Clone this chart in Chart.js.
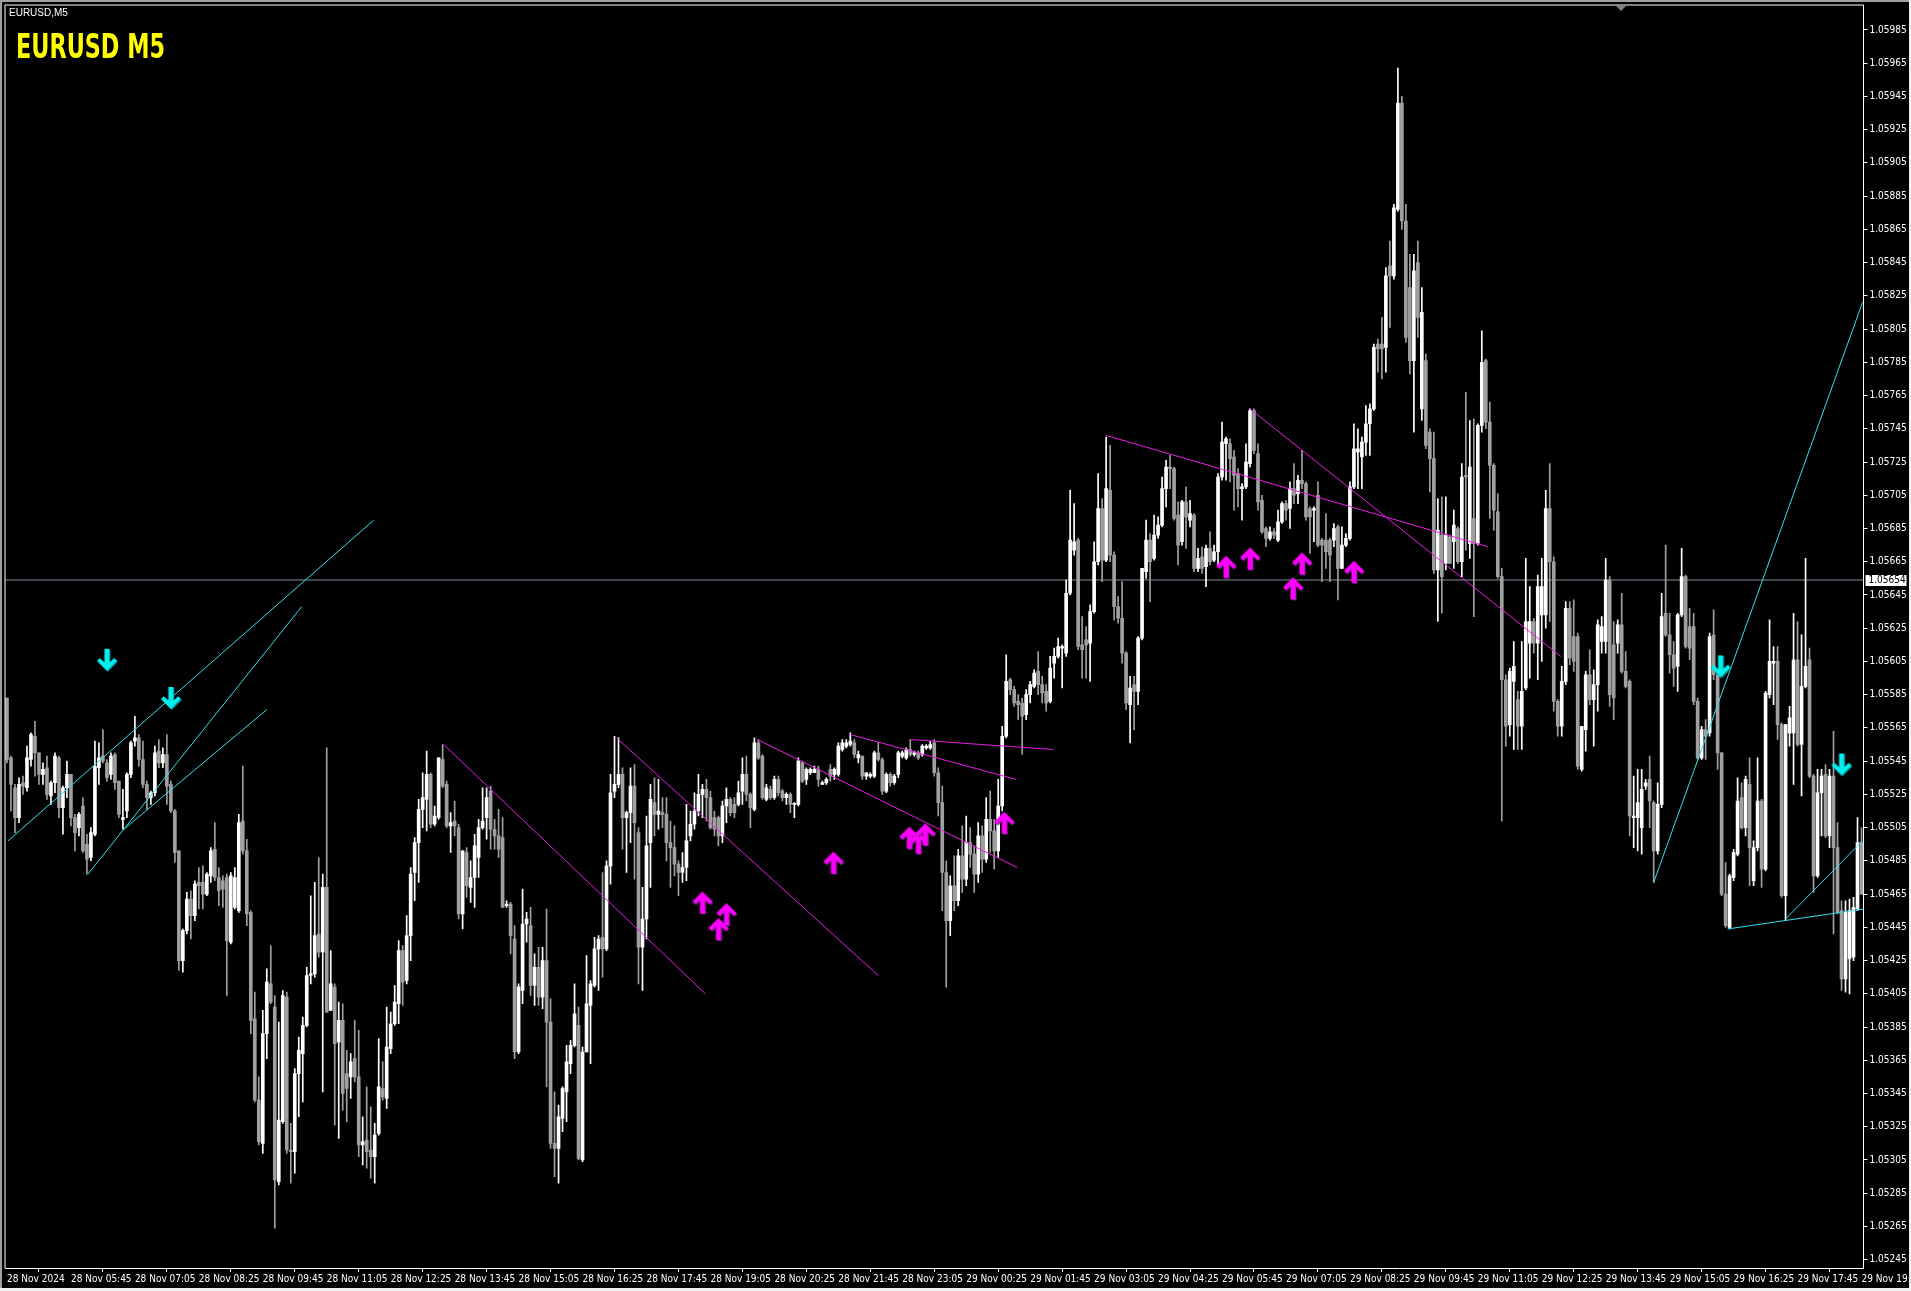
<!DOCTYPE html>
<html>
<head>
<meta charset="utf-8">
<title>EURUSD,M5</title>
<script src="https://cdn.jsdelivr.net/npm/chart.js@4.4.1/dist/chart.umd.min.js"></script>
<style>
  html, body { margin: 0; padding: 0; background: #000; overflow: hidden; }
  canvas { display: block; }
</style>
</head>
<body>
<canvas id="chart" width="1911" height="1291"></canvas>
<script>
// EURUSD M5, 28 Nov 04:25 -> 29 Nov 19:05, one value per bar
var opens = [
1.05583,1.05547,1.05529,1.05511,1.05532,1.05529,1.05546,1.05560,1.05550,1.05537,
1.05541,1.05524,1.05532,1.05547,1.05517,1.05529,1.05537,1.05511,1.05505,1.05518,
1.05495,1.05487,1.05501,1.05541,1.05548,1.05544,1.05537,1.05549,1.05533,1.05510,
1.05515,1.05537,1.05557,1.05559,1.05546,1.05531,1.05523,1.05526,1.05551,1.05544,
1.05549,1.05531,1.05515,1.05491,1.05425,1.05443,1.05462,1.05452,1.05472,1.05472,
1.05465,1.05476,1.05492,1.05475,1.05473,1.05475,1.05436,1.05457,1.05455,1.05509,
1.05491,1.05454,1.05390,1.05341,1.05315,1.05381,1.05411,1.05397,1.05292,1.05328,
1.05403,1.05311,1.05310,1.05357,1.05369,1.05386,1.05416,1.05417,1.05441,1.05430,
1.05469,1.05395,1.05409,1.05376,1.05389,1.05357,1.05355,1.05366,1.05355,1.05314,
1.05317,1.05311,1.05307,1.05321,1.05348,1.05342,1.05372,1.05387,1.05399,1.05431,
1.05413,1.05440,1.05478,1.05496,1.05516,1.05522,1.05537,1.05507,1.05511,1.05546,
1.05531,1.05506,1.05509,1.05505,1.05453,1.05490,1.05469,1.05475,1.05487,1.05505,
1.05511,1.05527,1.05504,1.05500,1.05499,1.05458,1.05459,1.05438,1.05370,1.05407,
1.05447,1.05446,1.05410,1.05421,1.05403,1.05425,1.05388,1.05315,1.05312,1.05330,
1.05346,1.05363,1.05374,1.05386,1.05305,1.05370,1.05398,1.05410,1.05432,1.05439,
1.05432,1.05482,1.05527,1.05531,1.05537,1.05511,1.05514,1.05530,1.05502,1.05433,
1.05450,1.05496,1.05520,1.05513,1.05514,1.05513,1.05496,1.05493,1.05483,1.05478,
1.05481,1.05500,1.05507,1.05515,1.05525,1.05528,1.05523,1.05511,1.05511,1.05500,
1.05518,1.05522,1.05519,1.05519,1.05527,1.05537,1.05525,1.05516,1.05556,1.05548,
1.05522,1.05528,1.05523,1.05534,1.05527,1.05523,1.05525,1.05519,1.05519,1.05544,
1.05534,1.05538,1.05538,1.05540,1.05531,1.05532,1.05540,1.05537,1.05537,1.05552,
1.05554,1.05555,1.05556,1.05547,1.05548,1.05536,1.05536,1.05536,1.05550,1.05546,
1.05527,1.05537,1.05532,1.05537,1.05548,1.05547,1.05552,1.05549,1.05550,1.05549,
1.05553,1.05553,1.05556,1.05538,1.05520,1.05478,1.05449,1.05470,1.05461,1.05488,
1.05474,1.05496,1.05489,1.05477,1.05500,1.05486,1.05510,1.05503,1.05491,1.05518,
1.05560,1.05594,1.05588,1.05581,1.05580,1.05573,1.05585,1.05590,1.05599,1.05591,
1.05587,1.05581,1.05604,1.05608,1.05613,1.05610,1.05646,1.05672,1.05678,1.05615,
1.05618,1.05616,1.05635,1.05665,1.05697,1.05666,1.05708,1.05669,1.05638,1.05631,
1.05610,1.05579,1.05591,1.05587,1.05619,1.05659,1.05678,1.05667,1.05681,1.05687,
1.05709,1.05722,1.05721,1.05693,1.05677,1.05701,1.05690,1.05693,1.05661,1.05668,
1.05662,1.05673,1.05666,1.05671,1.05716,1.05736,1.05736,1.05728,1.05718,1.05709,
1.05710,1.05724,1.05756,1.05730,1.05702,1.05685,1.05679,1.05683,1.05678,1.05689,
1.05700,1.05697,1.05709,1.05706,1.05714,1.05712,1.05697,1.05696,1.05705,1.05678,
1.05678,1.05678,1.05678,1.05686,1.05661,1.05675,1.05679,1.05710,1.05731,1.05728,
1.05737,1.05748,1.05757,1.05796,1.05796,1.05794,1.05843,1.05837,1.05877,1.05941,
1.05870,1.05830,1.05786,1.05845,1.05757,1.05786,1.05743,1.05727,1.05660,1.05681,
1.05664,1.05680,1.05677,1.05685,1.05665,1.05717,1.05676,1.05691,1.05676,1.05747,
1.05786,1.05749,1.05723,1.05695,1.05656,1.05594,1.05567,1.05593,1.05582,1.05566,
1.05589,1.05616,1.05629,1.05616,1.05633,1.05633,1.05697,1.05665,1.05581,1.05566,
1.05593,1.05637,1.05620,1.05620,1.05540,1.05564,1.05597,1.05582,1.05591,1.05617,
1.05617,1.05654,1.05615,1.05616,1.05627,1.05599,1.05593,1.05511,1.05511,1.05505,
1.05530,1.05534,1.05520,1.05491,1.05519,1.05634,1.05621,1.05609,1.05602,1.05633,
1.05656,1.05626,1.05626,1.05581,1.05547,1.05564,1.05562,1.05621,1.05597,1.05550,
1.05465,1.05445,1.05475,1.05489,1.05523,1.05505,1.05531,1.05473,1.05493,1.05521,
1.05480,1.05585,1.05604,1.05605,1.05567,1.05464,1.05562,1.05562,1.05606,1.05555,
1.05590,1.05606,1.05536,1.05476,1.05526,1.05537,1.05500,1.05536,1.05493,1.05455,
1.05414,1.05426,1.05427,1.05456,1.05496
];
var highs = [
1.05583,1.05548,1.05531,1.05535,1.05536,1.05554,1.05562,1.05569,1.05550,1.05544,
1.05548,1.05533,1.05550,1.05548,1.05530,1.05545,1.05537,1.05513,1.05514,1.05523,
1.05501,1.05505,1.05557,1.05556,1.05564,1.05546,1.05550,1.05550,1.05533,1.05528,
1.05538,1.05557,1.05572,1.05561,1.05557,1.05533,1.05527,1.05554,1.05558,1.05553,
1.05561,1.05533,1.05516,1.05491,1.05444,1.05466,1.05467,1.05473,1.05481,1.05482,
1.05478,1.05493,1.05508,1.05481,1.05476,1.05477,1.05478,1.05481,1.05513,1.05542,
1.05498,1.05455,1.05406,1.05355,1.05395,1.05420,1.05434,1.05404,1.05388,1.05407,
1.05406,1.05327,1.05360,1.05379,1.05391,1.05421,1.05464,1.05472,1.05487,1.05477,
1.05553,1.05431,1.05411,1.05400,1.05399,1.05371,1.05369,1.05389,1.05383,1.05331,
1.05349,1.05337,1.05327,1.05378,1.05364,1.05397,1.05394,1.05410,1.05437,1.05434,
1.05452,1.05481,1.05499,1.05522,1.05538,1.05551,1.05538,1.05518,1.05547,1.05555,
1.05533,1.05514,1.05521,1.05507,1.05491,1.05493,1.05485,1.05501,1.05510,1.05529,
1.05529,1.05530,1.05510,1.05516,1.05511,1.05461,1.05460,1.05446,1.05411,1.05468,
1.05454,1.05457,1.05429,1.05433,1.05433,1.05456,1.05402,1.05346,1.05338,1.05349,
1.05374,1.05377,1.05411,1.05397,1.05373,1.05428,1.05413,1.05439,1.05440,1.05478,
1.05485,1.05537,1.05560,1.05559,1.05541,1.05515,1.05541,1.05543,1.05505,1.05469,
1.05512,1.05531,1.05535,1.05534,1.05523,1.05523,1.05509,1.05506,1.05485,1.05490,
1.05519,1.05515,1.05526,1.05537,1.05531,1.05534,1.05527,1.05515,1.05512,1.05521,
1.05529,1.05523,1.05523,1.05533,1.05547,1.05548,1.05526,1.05559,1.05558,1.05549,
1.05531,1.05530,1.05536,1.05536,1.05528,1.05526,1.05526,1.05520,1.05547,1.05545,
1.05541,1.05541,1.05542,1.05542,1.05533,1.05535,1.05543,1.05541,1.05556,1.05558,
1.05558,1.05562,1.05558,1.05551,1.05548,1.05538,1.05538,1.05551,1.05556,1.05547,
1.05538,1.05538,1.05537,1.05551,1.05551,1.05553,1.05558,1.05551,1.05551,1.05555,
1.05555,1.05557,1.05558,1.05541,1.05530,1.05485,1.05476,1.05488,1.05492,1.05506,
1.05512,1.05505,1.05494,1.05508,1.05506,1.05523,1.05527,1.05510,1.05534,1.05566,
1.05609,1.05595,1.05590,1.05585,1.05583,1.05588,1.05593,1.05600,1.05611,1.05596,
1.05591,1.05608,1.05613,1.05619,1.05615,1.05654,1.05708,1.05700,1.05679,1.05632,
1.05626,1.05639,1.05677,1.05718,1.05703,1.05740,1.05735,1.05671,1.05644,1.05653,
1.05611,1.05596,1.05596,1.05620,1.05661,1.05690,1.05682,1.05693,1.05692,1.05716,
1.05726,1.05729,1.05722,1.05701,1.05702,1.05710,1.05702,1.05694,1.05673,1.05674,
1.05675,1.05683,1.05675,1.05718,1.05749,1.05740,1.05739,1.05732,1.05721,1.05712,
1.05736,1.05757,1.05757,1.05736,1.05705,1.05686,1.05686,1.05685,1.05696,1.05701,
1.05702,1.05713,1.05724,1.05717,1.05732,1.05713,1.05698,1.05698,1.05713,1.05679,
1.05694,1.05679,1.05688,1.05687,1.05686,1.05682,1.05713,1.05748,1.05745,1.05740,
1.05759,1.05760,1.05796,1.05799,1.05812,1.05842,1.05858,1.05880,1.05962,1.05945,
1.05880,1.05850,1.05850,1.05858,1.05830,1.05790,1.05745,1.05743,1.05703,1.05704,
1.05704,1.05681,1.05696,1.05686,1.05724,1.05767,1.05750,1.05751,1.05748,1.05804,
1.05787,1.05761,1.05724,1.05706,1.05661,1.05597,1.05601,1.05617,1.05587,1.05617,
1.05667,1.05650,1.05631,1.05657,1.05667,1.05708,1.05724,1.05668,1.05582,1.05602,
1.05641,1.05641,1.05642,1.05622,1.05566,1.05599,1.05612,1.05600,1.05630,1.05632,
1.05667,1.05656,1.05629,1.05630,1.05646,1.05611,1.05594,1.05536,1.05540,1.05540,
1.05534,1.05548,1.05521,1.05532,1.05646,1.05675,1.05634,1.05617,1.05634,1.05673,
1.05657,1.05637,1.05634,1.05583,1.05566,1.05570,1.05622,1.05636,1.05597,1.05550,
1.05484,1.05477,1.05492,1.05535,1.05532,1.05536,1.05547,1.05497,1.05547,1.05522,
1.05587,1.05630,1.05614,1.05614,1.05568,1.05567,1.05578,1.05634,1.05629,1.05621,
1.05667,1.05613,1.05537,1.05540,1.05540,1.05543,1.05540,1.05563,1.05508,1.05461,
1.05461,1.05462,1.05463,1.05511,1.05505
];
var lows = [
1.05544,1.05515,1.05502,1.05508,1.05525,1.05527,1.05542,1.05536,1.05531,1.05531,
1.05522,1.05519,1.05526,1.05511,1.05501,1.05523,1.05506,1.05491,1.05500,1.05490,
1.05477,1.05485,1.05500,1.05531,1.05544,1.05533,1.05534,1.05528,1.05511,1.05504,
1.05511,1.05535,1.05554,1.05542,1.05529,1.05516,1.05519,1.05524,1.05541,1.05541,
1.05519,1.05514,1.05484,1.05419,1.05418,1.05441,1.05438,1.05449,1.05456,1.05456,
1.05464,1.05472,1.05473,1.05458,1.05457,1.05404,1.05435,1.05456,1.05454,1.05489,
1.05446,1.05381,1.05340,1.05314,1.05309,1.05366,1.05399,1.05264,1.05290,1.05327,
1.05309,1.05291,1.05297,1.05331,1.05340,1.05385,1.05411,1.05415,1.05427,1.05346,
1.05394,1.05395,1.05326,1.05318,1.05335,1.05328,1.05342,1.05352,1.05307,1.05302,
1.05300,1.05294,1.05291,1.05320,1.05341,1.05336,1.05369,1.05386,1.05387,1.05398,
1.05411,1.05425,1.05461,1.05472,1.05505,1.05503,1.05505,1.05506,1.05510,1.05529,
1.05505,1.05490,1.05500,1.05450,1.05444,1.05463,1.05460,1.05457,1.05475,1.05504,
1.05498,1.05492,1.05492,1.05487,1.05457,1.05457,1.05429,1.05366,1.05369,1.05399,
1.05436,1.05404,1.05398,1.05398,1.05396,1.05349,1.05312,1.05295,1.05291,1.05322,
1.05328,1.05357,1.05373,1.05305,1.05304,1.05370,1.05363,1.05409,1.05407,1.05415,
1.05431,1.05471,1.05523,1.05529,1.05492,1.05478,1.05496,1.05474,1.05411,1.05407,
1.05438,1.05469,1.05500,1.05504,1.05505,1.05485,1.05469,1.05476,1.05464,1.05472,
1.05473,1.05497,1.05504,1.05512,1.05511,1.05509,1.05504,1.05500,1.05494,1.05496,
1.05508,1.05512,1.05511,1.05518,1.05519,1.05521,1.05505,1.05515,1.05546,1.05522,
1.05521,1.05522,1.05522,1.05524,1.05521,1.05519,1.05514,1.05511,1.05518,1.05532,
1.05531,1.05537,1.05538,1.05530,1.05531,1.05531,1.05533,1.05534,1.05536,1.05551,
1.05553,1.05554,1.05547,1.05544,1.05534,1.05534,1.05535,1.05535,1.05545,1.05525,
1.05526,1.05530,1.05531,1.05535,1.05547,1.05546,1.05548,1.05548,1.05546,1.05548,
1.05552,1.05552,1.05536,1.05512,1.05455,1.05409,1.05440,1.05455,1.05458,1.05466,
1.05470,1.05481,1.05466,1.05472,1.05478,1.05484,1.05490,1.05480,1.05487,1.05515,
1.05559,1.05585,1.05578,1.05570,1.05549,1.05570,1.05580,1.05589,1.05585,1.05580,
1.05575,1.05580,1.05595,1.05607,1.05589,1.05608,1.05645,1.05669,1.05612,1.05595,
1.05595,1.05593,1.05634,1.05663,1.05653,1.05665,1.05665,1.05630,1.05628,1.05604,
1.05576,1.05556,1.05564,1.05579,1.05618,1.05655,1.05641,1.05666,1.05679,1.05686,
1.05698,1.05709,1.05690,1.05663,1.05675,1.05673,1.05686,1.05659,1.05659,1.05658,
1.05650,1.05663,1.05665,1.05663,1.05714,1.05714,1.05713,1.05696,1.05698,1.05690,
1.05709,1.05722,1.05730,1.05696,1.05682,1.05674,1.05678,1.05679,1.05677,1.05688,
1.05690,1.05685,1.05700,1.05700,1.05709,1.05690,1.05670,1.05677,1.05674,1.05653,
1.05661,1.05653,1.05674,1.05642,1.05661,1.05674,1.05678,1.05709,1.05709,1.05709,
1.05729,1.05729,1.05756,1.05779,1.05775,1.05779,1.05806,1.05835,1.05876,1.05865,
1.05797,1.05778,1.05743,1.05800,1.05750,1.05733,1.05707,1.05658,1.05629,1.05634,
1.05660,1.05664,1.05661,1.05664,1.05656,1.05672,1.05667,1.05632,1.05675,1.05743,
1.05745,1.05691,1.05684,1.05655,1.05509,1.05554,1.05560,1.05552,1.05552,1.05552,
1.05588,1.05595,1.05610,1.05594,1.05605,1.05625,1.05629,1.05575,1.05560,1.05560,
1.05591,1.05603,1.05599,1.05540,1.05539,1.05551,1.05579,1.05554,1.05575,1.05610,
1.05610,1.05578,1.05570,1.05610,1.05598,1.05589,1.05500,1.05493,1.05491,1.05489,
1.05528,1.05505,1.05472,1.05489,1.05517,1.05620,1.05598,1.05590,1.05587,1.05632,
1.05613,1.05606,1.05579,1.05546,1.05546,1.05546,1.05560,1.05594,1.05540,1.05464,
1.05445,1.05444,1.05473,1.05488,1.05504,1.05500,1.05470,1.05470,1.05491,1.05469,
1.05479,1.05583,1.05579,1.05558,1.05463,1.05449,1.05554,1.05531,1.05554,1.05524,
1.05589,1.05535,1.05466,1.05475,1.05500,1.05499,1.05493,1.05441,1.05453,1.05407,
1.05406,1.05405,1.05425,1.05455,1.05465
];
var closes = [
1.05546,1.05531,1.05511,1.05531,1.05530,1.05547,1.05561,1.05550,1.05537,1.05540,
1.05525,1.05532,1.05548,1.05517,1.05529,1.05537,1.05511,1.05502,1.05513,1.05491,
1.05486,1.05502,1.05542,1.05547,1.05545,1.05535,1.05548,1.05532,1.05513,1.05511,
1.05537,1.05556,1.05559,1.05546,1.05531,1.05523,1.05526,1.05550,1.05544,1.05549,
1.05530,1.05515,1.05490,1.05425,1.05443,1.05462,1.05452,1.05471,1.05470,1.05465,
1.05477,1.05491,1.05475,1.05467,1.05468,1.05437,1.05476,1.05475,1.05508,1.05491,
1.05453,1.05389,1.05341,1.05316,1.05381,1.05412,1.05400,1.05293,1.05329,1.05404,
1.05311,1.05310,1.05357,1.05371,1.05386,1.05416,1.05417,1.05440,1.05430,1.05469,
1.05394,1.05411,1.05375,1.05389,1.05345,1.05348,1.05364,1.05355,1.05314,1.05316,
1.05310,1.05307,1.05320,1.05349,1.05343,1.05373,1.05387,1.05400,1.05431,1.05412,
1.05440,1.05477,1.05496,1.05516,1.05523,1.05537,1.05507,1.05512,1.05547,1.05530,
1.05506,1.05508,1.05506,1.05453,1.05491,1.05470,1.05475,1.05494,1.05505,1.05509,
1.05523,1.05504,1.05500,1.05492,1.05457,1.05459,1.05440,1.05370,1.05409,1.05447,
1.05450,1.05410,1.05421,1.05403,1.05425,1.05388,1.05315,1.05312,1.05331,1.05348,
1.05364,1.05374,1.05393,1.05306,1.05370,1.05399,1.05411,1.05432,1.05438,1.05432,
1.05482,1.05526,1.05531,1.05537,1.05511,1.05514,1.05530,1.05508,1.05433,1.05450,
1.05494,1.05522,1.05513,1.05515,1.05513,1.05496,1.05493,1.05483,1.05478,1.05481,
1.05497,1.05507,1.05515,1.05525,1.05528,1.05523,1.05505,1.05504,1.05500,1.05518,
1.05522,1.05514,1.05514,1.05526,1.05537,1.05525,1.05517,1.05556,1.05547,1.05523,
1.05529,1.05523,1.05534,1.05526,1.05523,1.05525,1.05519,1.05519,1.05545,1.05533,
1.05540,1.05540,1.05540,1.05534,1.05532,1.05534,1.05536,1.05540,1.05554,1.05556,
1.05556,1.05557,1.05549,1.05549,1.05536,1.05538,1.05537,1.05550,1.05546,1.05527,
1.05537,1.05532,1.05536,1.05550,1.05550,1.05552,1.05549,1.05550,1.05547,1.05554,
1.05554,1.05555,1.05538,1.05520,1.05478,1.05449,1.05470,1.05461,1.05488,1.05474,
1.05496,1.05489,1.05477,1.05500,1.05486,1.05510,1.05503,1.05491,1.05518,1.05560,
1.05593,1.05588,1.05580,1.05579,1.05572,1.05585,1.05591,1.05598,1.05591,1.05586,
1.05580,1.05601,1.05608,1.05614,1.05614,1.05646,1.05678,1.05677,1.05614,1.05612,
1.05615,1.05635,1.05665,1.05697,1.05666,1.05709,1.05669,1.05638,1.05631,1.05610,
1.05580,1.05589,1.05587,1.05619,1.05661,1.05678,1.05665,1.05681,1.05687,1.05709,
1.05722,1.05721,1.05691,1.05675,1.05701,1.05692,1.05694,1.05661,1.05667,1.05661,
1.05673,1.05665,1.05671,1.05716,1.05737,1.05739,1.05727,1.05717,1.05709,1.05710,
1.05725,1.05756,1.05732,1.05701,1.05683,1.05679,1.05683,1.05681,1.05689,1.05700,
1.05696,1.05709,1.05705,1.05714,1.05712,1.05692,1.05692,1.05697,1.05675,1.05675,
1.05671,1.05669,1.05685,1.05661,1.05675,1.05679,1.05710,1.05733,1.05733,1.05737,
1.05748,1.05757,1.05794,1.05793,1.05793,1.05837,1.05837,1.05878,1.05941,1.05870,
1.05800,1.05786,1.05840,1.05812,1.05815,1.05735,1.05727,1.05660,1.05684,1.05656,
1.05681,1.05664,1.05687,1.05665,1.05716,1.05716,1.05722,1.05676,1.05747,1.05785,
1.05749,1.05723,1.05696,1.05656,1.05594,1.05566,1.05599,1.05602,1.05566,1.05587,
1.05629,1.05629,1.05616,1.05650,1.05650,1.05697,1.05665,1.05581,1.05566,1.05593,
1.05637,1.05607,1.05605,1.05542,1.05566,1.05597,1.05582,1.05591,1.05627,1.05626,
1.05654,1.05585,1.05583,1.05627,1.05599,1.05590,1.05512,1.05512,1.05520,1.05528,
1.05532,1.05521,1.05491,1.05519,1.05632,1.05621,1.05609,1.05601,1.05633,1.05656,
1.05614,1.05613,1.05581,1.05547,1.05564,1.05560,1.05620,1.05597,1.05550,1.05465,
1.05446,1.05476,1.05490,1.05521,1.05505,1.05534,1.05493,1.05493,1.05521,1.05480,
1.05586,1.05605,1.05605,1.05567,1.05464,1.05567,1.05571,1.05606,1.05555,1.05590,
1.05602,1.05536,1.05476,1.05526,1.05536,1.05500,1.05536,1.05493,1.05454,1.05414,
1.05454,1.05455,1.05457,1.05496,1.05465
];

// bottom axis labels, one every 16 bars (80 minutes)
var timeLabels = [
  '28 Nov 2024', '28 Nov 05:45', '28 Nov 07:05', '28 Nov 08:25', '28 Nov 09:45', '28 Nov 11:05',
  '28 Nov 12:25', '28 Nov 13:45', '28 Nov 15:05', '28 Nov 16:25', '28 Nov 17:45', '28 Nov 19:05',
  '28 Nov 20:25', '28 Nov 21:45', '28 Nov 23:05', '29 Nov 00:25', '29 Nov 01:45', '29 Nov 03:05',
  '29 Nov 04:25', '29 Nov 05:45', '29 Nov 07:05', '29 Nov 08:25', '29 Nov 09:45', '29 Nov 11:05',
  '29 Nov 12:25', '29 Nov 13:45', '29 Nov 15:05', '29 Nov 16:25', '29 Nov 17:45', '29 Nov 19:05'
];
var barsPerLabel = 16;

// right axis labels
var priceTicks = [
  1.05985, 1.05965, 1.05945, 1.05925, 1.05905, 1.05885, 1.05865, 1.05845, 1.05825, 1.05805,
  1.05785, 1.05765, 1.05745, 1.05725, 1.05705, 1.05685, 1.05665, 1.05645, 1.05625, 1.05605,
  1.05585, 1.05565, 1.05545, 1.05525, 1.05505, 1.05485, 1.05465, 1.05445, 1.05425, 1.05405,
  1.05385, 1.05365, 1.05345, 1.05325, 1.05305, 1.05285, 1.05265, 1.05245
];
var priceMin = 1.05240, priceMax = 1.06000;
var hlinePrice = 1.05654;

// trend lines: [bar index, price] end points
var cyanLines = [
  [[0.25, 1.05497], [91.75, 1.05690]],
  [[20.25, 1.05477], [73.75, 1.05638]],
  [[29.25, 1.05504], [65, 1.05576]],
  [[412, 1.05472], [464.25, 1.05821]],
  [[430.5, 1.05444], [464.5, 1.05456]],
  [[445, 1.05450], [464.25, 1.05497]]
];
var magentaLines = [
  [[109.25, 1.05555], [174.75, 1.05405]],
  [[152.5, 1.05559], [218, 1.05416]],
  [[187.75, 1.05558], [252.75, 1.05481]],
  [[211, 1.05561], [252.5, 1.05534]],
  [[226, 1.05558], [261.75, 1.05552]],
  [[275, 1.05741], [370.5, 1.05674]],
  [[311, 1.05757], [388.75, 1.05608]]
];

// signal arrows: [bar index, price]
var downArrows = [[25, 1.05606], [41, 1.05583], [428.75, 1.05602], [459, 1.05543]];
var upArrows = [
  [174, 1.05460], [178, 1.05444], [180, 1.05453], [206.75, 1.05484], [225.75, 1.05499],
  [228, 1.05496], [229.75, 1.05501], [249.5, 1.05508], [305, 1.05662], [311, 1.05667],
  [321.75, 1.05649], [324, 1.05664], [337, 1.05659]
];

var UP = '#ffffff', DOWN = '#a0a0a0', CYAN = '#2fe3ea', MAGENTA = '#e81ce8';
var tickFont = { family: "'Liberation Sans Narrow', 'DejaVu Sans Condensed', 'Liberation Sans', sans-serif", size: 10 };

// chevron-headed arrow, drawn once and reused as point style
function arrowImage(fill, shade, pointsDown) {
  var cv = document.createElement('canvas');
  cv.width = 26; cv.height = 28;
  var g = cv.getContext('2d');
  var s = pointsDown ? 1 : -1;
  var shape = [[-2.5,-11],[2.5,-11],[2.5,2.8],[7.2,-1.8],[10,1],[0,11],[-10,1],[-7.2,-1.8],[-2.5,2.8]];
  function trace(dx, dy) {
    g.beginPath();
    shape.forEach(function (p, k) {
      var px = 13 + p[0] + dx, py = 14 + s * p[1] + dy;
      if (k) g.lineTo(px, py); else g.moveTo(px, py);
    });
    g.closePath();
    g.fill();
  }
  g.fillStyle = shade; trace(1, 1);
  g.fillStyle = fill; trace(0, 0);
  return cv;
}

var idx = opens.map(function (_, i) { return i; });
var lastIndex = opens.length - 1;
function candleColor(ctx) { return closes[ctx.dataIndex] >= opens[ctx.dataIndex] ? UP : DOWN; }
function toPoints(arr) { return arr.map(function (p) { return { x: p[0], y: p[1] }; }); }

var datasets = [
  { type: 'line', data: [{ x: -0.5, y: hlinePrice }, { x: lastIndex + 0.5, y: hlinePrice }],
    borderColor: '#7f8fa0', borderWidth: 1, pointRadius: 0, order: 9 },
  { type: 'bar', data: idx.map(function (i) { return { x: i, y: [lows[i], highs[i]] }; }),
    backgroundColor: candleColor, barThickness: 1, grouped: false, order: 8 },
  { type: 'bar', data: idx.map(function (i) { return { x: i, y: [opens[i], closes[i]] }; }),
    backgroundColor: candleColor, barThickness: 3, minBarLength: 1, grouped: false, order: 7 }
];
cyanLines.forEach(function (l) {
  datasets.push({ type: 'line', data: toPoints(l), borderColor: CYAN, borderWidth: 1, pointRadius: 0, order: 3 });
});
magentaLines.forEach(function (l) {
  datasets.push({ type: 'line', data: toPoints(l), borderColor: MAGENTA, borderWidth: 1, pointRadius: 0, order: 3 });
});
datasets.push({ type: 'scatter', data: toPoints(downArrows), pointStyle: arrowImage('#00f0f0', '#0a7f86', true), order: 1 });
datasets.push({ type: 'scatter', data: toPoints(upArrows), pointStyle: arrowImage('#ff00ff', '#80208a', false), order: 1 });

var decor = {
  id: 'decor',
  beforeDraw: function (chart) {
    var c = chart.ctx;
    c.save();
    c.fillStyle = '#000';
    c.fillRect(0, 0, chart.width, chart.height);
    c.restore();
  },
  afterDraw: function (chart) {
    var c = chart.ctx, a = chart.chartArea, y = chart.scales.y;
    c.save();
    // frame top / left
    c.strokeStyle = '#ffffff';
    c.lineWidth = 1;
    c.beginPath();
    c.moveTo(a.left, a.bottom); c.lineTo(a.left, a.top); c.lineTo(a.right, a.top);
    c.stroke();
    // window borders
    c.fillStyle = '#a0a0a0';
    c.fillRect(0, 0, chart.width, 2);
    c.fillRect(0, 0, 2, chart.height);
    c.fillStyle = '#f0f0f0';
    c.fillRect(0, chart.height - 3, chart.width, 3);
    c.fillRect(chart.width - 2, 0, 2, chart.height);
    // shift marker
    c.fillStyle = '#808080';
    c.beginPath(); c.moveTo(1615, a.top); c.lineTo(1627, a.top); c.lineTo(1621, a.top + 6); c.closePath(); c.fill();
    // price tag of the horizontal line
    var py = Math.round(y.getPixelForValue(hlinePrice));
    c.fillStyle = '#ffffff';
    c.fillRect(a.right + 2, py - 5, 41, 11);
    c.fillStyle = '#000000';
    c.font = "10px 'Liberation Sans Narrow', 'DejaVu Sans Condensed', 'Liberation Sans', sans-serif";
    c.textBaseline = 'middle';
    c.fillText(hlinePrice.toFixed(5), a.right + 5, py + 0.5);
    // captions
    c.textBaseline = 'alphabetic';
    c.fillStyle = '#ffffff';
    c.font = "10px 'Liberation Sans', sans-serif";
    c.fillText('EURUSD,M5', 9, 16);
    c.fillStyle = '#ffff00';
    c.font = "bold 34px 'Liberation Sans Narrow', 'DejaVu Sans Condensed', 'Liberation Sans', sans-serif";
    c.fillText('EURUSD M5', 16, 58, 149);
    c.restore();
  }
};

new Chart(document.getElementById('chart').getContext('2d'), {
  type: 'bar',
  data: { datasets: datasets },
  options: {
    responsive: false,
    animation: false,
    devicePixelRatio: 1,
    events: [],
    layout: { padding: { left: 3.5, top: 4.5, right: 0, bottom: 0 } },
    plugins: { legend: { display: false }, tooltip: { enabled: false } },
    scales: {
      x: {
        type: 'linear',
        min: -0.5,
        max: lastIndex + 0.5,
        offset: false,
        afterBuildTicks: function (s) {
          s.ticks = timeLabels.map(function (t, k) { return { value: k * barsPerLabel }; });
        },
        ticks: {
          autoSkip: false, maxRotation: 0, align: 'start', color: '#ffffff', padding: 1, font: tickFont,
          callback: function (v, k) { return timeLabels[k]; }
        },
        grid: { drawOnChartArea: false, color: '#ffffff', tickLength: 4 },
        border: { color: '#ffffff' },
        afterFit: function (s) { s.height = 23; s.paddingLeft = 0; s.paddingRight = 0; }
      },
      y: {
        position: 'right',
        min: priceMin,
        max: priceMax,
        afterBuildTicks: function (s) {
          s.ticks = priceTicks.map(function (v) { return { value: v }; });
        },
        ticks: {
          autoSkip: false, color: '#ffffff', padding: 2, font: tickFont,
          callback: function (v) { return Number(v).toFixed(5); }
        },
        grid: { drawOnChartArea: false, color: '#ffffff', tickLength: 4 },
        border: { color: '#ffffff' },
        afterFit: function (s) { s.width = 47.5; s.paddingTop = 0; s.paddingBottom = 0; }
      }
    }
  },
  plugins: [decor]
});
</script>
</body>
</html>
